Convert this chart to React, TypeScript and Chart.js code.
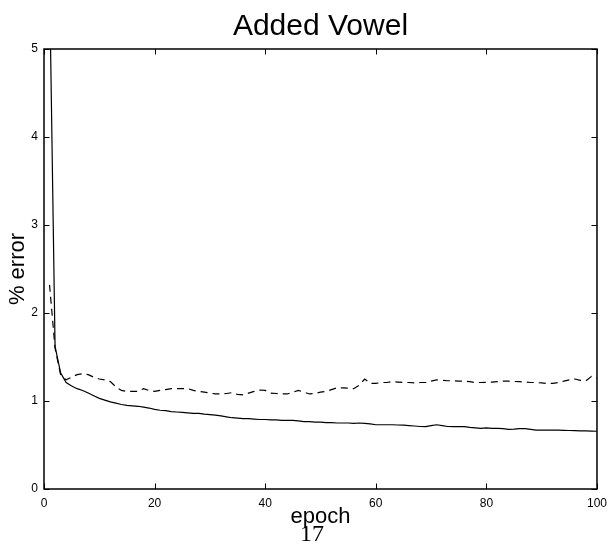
import React, { useEffect, useRef } from "react";
import { Chart, registerables } from "chart.js";

Chart.register(...registerables);

const TITLE = "Added Vowel";
const X_LABEL = "epoch";
const Y_LABEL = "% error";
const PAGE_NUMBER = "17";

const epochs: number[] = Array.from({ length: 100 }, (_, i) => i + 1);

const trainError: number[] = [
  5.8, 1.62, 1.32, 1.21, 1.17, 1.14, 1.12, 1.09, 1.06, 1.03,
  1.01, 0.99, 0.975, 0.96, 0.95, 0.945, 0.94, 0.93, 0.92, 0.905,
  0.895, 0.89, 0.88, 0.875, 0.87, 0.865, 0.86, 0.86, 0.85, 0.845,
  0.84, 0.83, 0.82, 0.81, 0.805, 0.8, 0.8, 0.795, 0.79, 0.79,
  0.785, 0.785, 0.78, 0.78, 0.78, 0.775, 0.765, 0.765, 0.76, 0.76,
  0.755, 0.755, 0.75, 0.75, 0.75, 0.745, 0.75, 0.745, 0.74, 0.73,
  0.73, 0.73, 0.73, 0.727, 0.725, 0.72, 0.716, 0.71, 0.708, 0.72,
  0.73, 0.72, 0.71, 0.708, 0.708, 0.708, 0.7, 0.695, 0.69, 0.695,
  0.69, 0.69, 0.685, 0.678, 0.68, 0.685, 0.685, 0.678, 0.67, 0.67,
  0.67, 0.668, 0.668, 0.667, 0.665, 0.663, 0.661, 0.66, 0.658, 0.656,
];

const testError: number[] = [
  2.32, 1.6, 1.3, 1.24, 1.27, 1.3, 1.31, 1.3, 1.27, 1.25,
  1.24, 1.22, 1.16, 1.12, 1.11, 1.11, 1.11, 1.14, 1.12, 1.11,
  1.12, 1.13, 1.14, 1.14, 1.14, 1.14, 1.12, 1.11, 1.1, 1.09,
  1.08, 1.08, 1.085, 1.095, 1.075, 1.07, 1.09, 1.11, 1.125, 1.12,
  1.09, 1.085, 1.08, 1.08, 1.1, 1.12, 1.1, 1.08, 1.085, 1.1,
  1.11, 1.13, 1.15, 1.15, 1.145, 1.14, 1.18, 1.25, 1.2, 1.2,
  1.21, 1.21, 1.22, 1.215, 1.21, 1.21, 1.205, 1.21, 1.21, 1.225,
  1.24, 1.235, 1.23, 1.23, 1.225, 1.225, 1.22, 1.21, 1.21, 1.212,
  1.215, 1.22, 1.225, 1.225, 1.222, 1.22, 1.215, 1.21, 1.21, 1.205,
  1.2, 1.2, 1.21, 1.225, 1.24, 1.25, 1.235, 1.23, 1.28, 1.26,
];

const xTicks: number[] = [0, 20, 40, 60, 80, 100];
const yTicks: number[] = [0, 1, 2, 3, 4, 5];

const FONT = "'Liberation Sans', Arial, Helvetica, sans-serif";

const framePlugin = {
  id: "matlabFrame",
  afterDatasetsDraw(chart: any) {
    const { ctx, chartArea, scales } = chart;
    const { left, right, top, bottom } = chartArea;
    const len = 5.5;
    ctx.save();
    ctx.strokeStyle = "#000";
    ctx.lineWidth = 1;
    ctx.beginPath();
    for (const v of xTicks) {
      const px = Math.round(scales.x.getPixelForValue(v)) + 0.5;
      ctx.moveTo(px, bottom);
      ctx.lineTo(px, bottom - len);
      ctx.moveTo(px, top);
      ctx.lineTo(px, top + len);
    }
    for (const v of yTicks) {
      const py = Math.round(scales.y.getPixelForValue(v)) + 0.5;
      ctx.moveTo(left, py);
      ctx.lineTo(left + len, py);
      ctx.moveTo(right, py);
      ctx.lineTo(right - len, py);
    }
    ctx.stroke();
    ctx.lineWidth = 1.5;
    ctx.strokeRect(left, top, right - left, bottom - top);
    ctx.restore();
  },
  afterDraw(chart: any) {
    const { ctx, chartArea } = chart;
    ctx.save();
    ctx.fillStyle = "#000";
    ctx.font = `30px ${FONT}`;
    ctx.textAlign = "center";
    ctx.textBaseline = "alphabetic";
    ctx.fillText(TITLE, (chartArea.left + chartArea.right) / 2, 35);
    ctx.restore();
  },
};

export default function App() {
  const canvasRef = useRef<HTMLCanvasElement | null>(null);

  useEffect(() => {
    const canvas = canvasRef.current;
    if (!canvas) return;
    const chart = new Chart(canvas, {
      type: "line",
      data: {
        labels: epochs,
        datasets: [
          {
            label: "train",
            data: epochs.map((e, i) => ({ x: e, y: trainError[i] })),
            borderColor: "#000",
            borderWidth: 1.2,
            pointRadius: 0,
            tension: 0,
            fill: false,
          },
          {
            label: "test",
            data: epochs.map((e, i) => ({ x: e, y: testError[i] })),
            borderColor: "#000",
            borderWidth: 1.2,
            borderDash: [7, 5],
            pointRadius: 0,
            tension: 0,
            fill: false,
          },
        ],
      },
      options: {
        responsive: false,
        animation: false,
        layout: { padding: { top: 49, right: 12, left: 0, bottom: 0 } },
        plugins: {
          legend: { display: false },
          title: { display: false },
          tooltip: { enabled: false },
        },
        scales: {
          x: {
            type: "linear",
            min: 0,
            max: 100,
            afterBuildTicks: (scale: any) => {
              scale.ticks = xTicks.map((v) => ({ value: v }));
            },
            afterFit: (scale: any) => {
              scale.height = 57;
            },
            grid: { display: false, drawTicks: false },
            border: { display: false },
            ticks: {
              padding: 7,
              color: "#000",
              font: { family: FONT, size: 12 },
              maxRotation: 0,
            },
            title: {
              display: true,
              text: X_LABEL,
              color: "#000",
              font: { family: FONT, size: 22 },
              padding: { top: 0, bottom: 16 },
            },
          },
          y: {
            type: "linear",
            min: 0,
            max: 5,
            afterBuildTicks: (scale: any) => {
              scale.ticks = yTicks.map((v) => ({ value: v }));
            },
            afterFit: (scale: any) => {
              scale.width = 44;
            },
            grid: { display: false, drawTicks: false },
            border: { display: false },
            ticks: {
              padding: 6,
              color: "#000",
              font: { family: FONT, size: 12 },
            },
            title: {
              display: true,
              text: Y_LABEL,
              color: "#000",
              font: { family: FONT, size: 22 },
              padding: { top: 5, bottom: 0 },
            },
          },
        },
      },
      plugins: [framePlugin],
    } as any);
    return () => chart.destroy();
  }, []);

  return (
    <div
      style={{
        position: "absolute",
        left: 0,
        top: 0,
        width: 614,
        height: 546,
        background: "#fff",
      }}
    >
      <canvas ref={canvasRef} width={614} height={546} style={{ display: "block" }} />
      <div
        style={{
          position: "absolute",
          left: 300,
          top: 521,
          fontFamily: "'Liberation Serif', 'Times New Roman', serif",
          fontSize: 24,
          lineHeight: 1,
          color: "#000",
          whiteSpace: "nowrap",
        }}
      >
        {PAGE_NUMBER}
      </div>
    </div>
  );
}
